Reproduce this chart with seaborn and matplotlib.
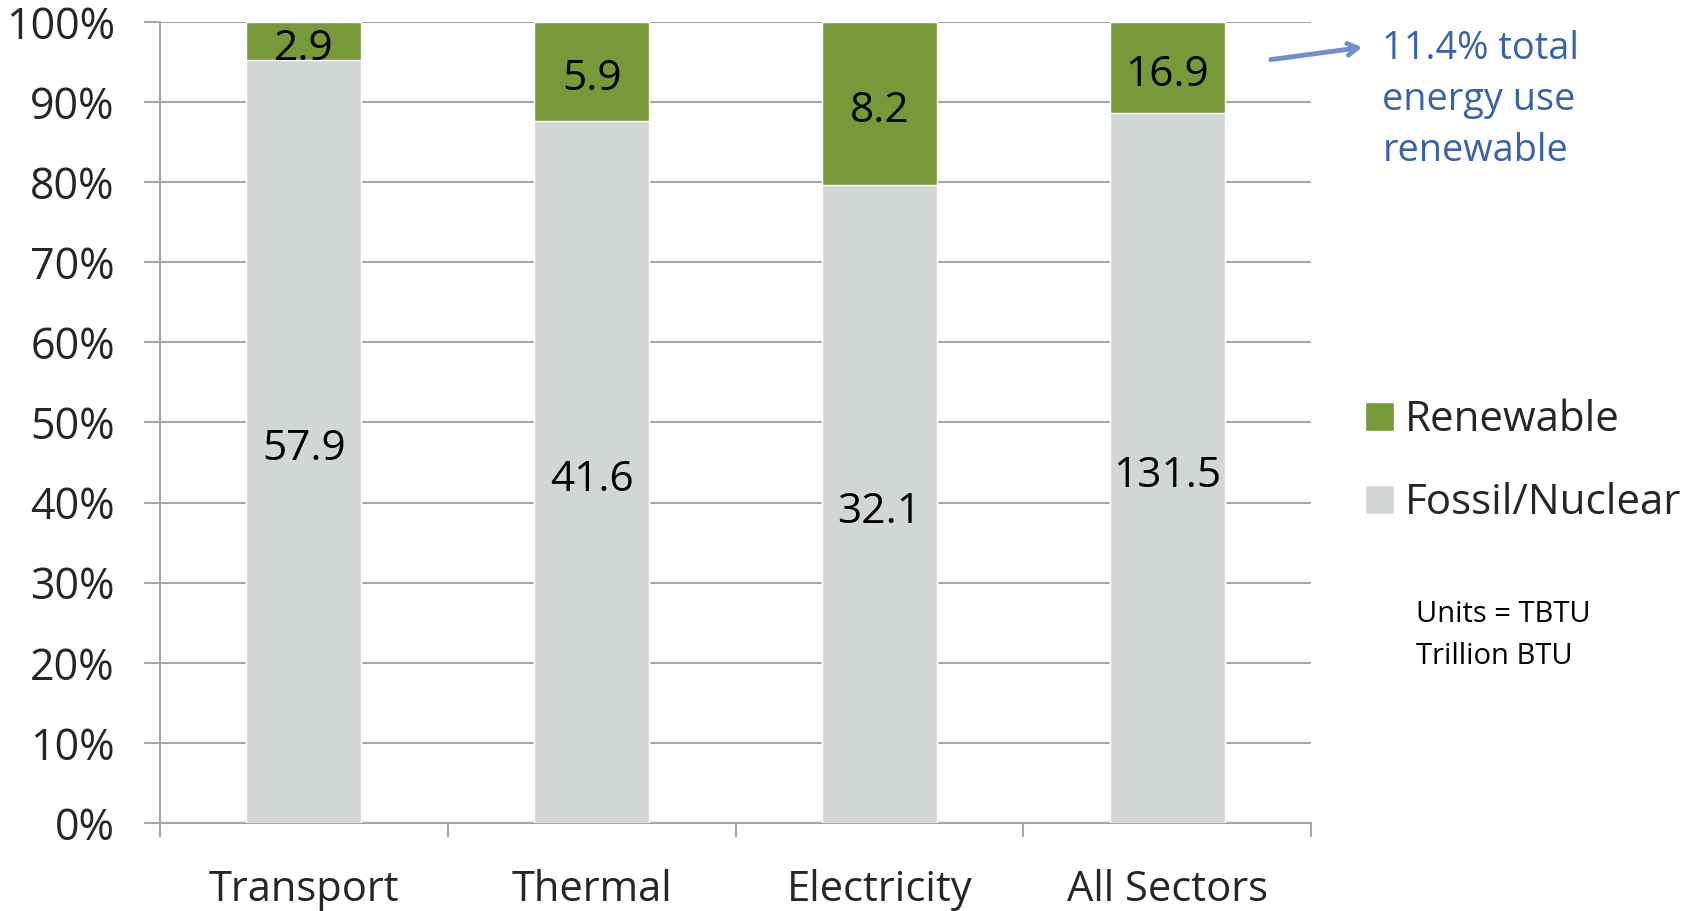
import numpy as np
import pandas as pd
import matplotlib.pyplot as plt
from matplotlib.patches import Patch
import seaborn as sns

# energy use by sector, TBTU
sectors = ["Transport", "Thermal", "Electricity", "All Sectors"]
renewable = [2.9, 5.9, 8.2, 16.9]
fossil = [57.9, 41.6, 32.1, 131.5]
y_ticks = [0, 10, 20, 30, 40, 50, 60, 70, 80, 90, 100]
y_labels = [f"{v}%" for v in y_ticks]

green = "#77993a"
grey = "#d3d6d7"
line_grey = "#a6a6a6"
blue_txt = "#3a62a6"

sns.set_theme(style="white")
plt.rcParams['font.family'] = ['Open Sans', 'DejaVu Sans']

df = pd.DataFrame({"sector": sectors, "renewable": renewable, "fossil": fossil})
df["total"] = df.renewable + df.fossil
df["fossil_pct"] = df.fossil / df.total * 100
df["full"] = 100.0

fig = plt.figure(figsize=(16.98, 9.11), dpi=100)
ax = fig.add_axes([0.0942, 0.0966, 0.678, 0.8794])

# green full bar underneath, grey fossil share on top
sns.barplot(data=df, x="sector", y="full", color=green, width=0.4, saturation=1, ax=ax, zorder=2)
sns.barplot(data=df, x="sector", y="fossil_pct", color=grey, width=0.4, saturation=1, ax=ax, zorder=3)

for i, row in df.iterrows():
    ax.annotate(f"{row.renewable:.1f}", (i, (row.fossil_pct + 100) / 2), xytext=(0, -5.5),
                textcoords="offset points", ha="center", va="center", fontsize=30.5, color="black", zorder=5)
    ax.annotate(f"{row.fossil:.1f}", (i, row.fossil_pct / 2), xytext=(0, -5.5),
                textcoords="offset points", ha="center", va="center", fontsize=30.5, color="black", zorder=5)

ax.set_ylim(0, 100)
ax.set_xlim(-0.5, 3.5)
ax.set_yticks(y_ticks)
ax.set_yticklabels(y_labels, fontsize=31)
ax.yaxis.grid(True, color=line_grey, lw=1.5)
ax.set_axisbelow(True)
ax.set_xlabel("")
ax.set_ylabel("")

ax.set_xticks(range(len(sectors)))
ax.set_xticklabels(sectors, fontsize=30)
ax.set_xticks(np.arange(-0.5, len(sectors), 1.0), minor=True)
ax.tick_params(axis="x", which="major", length=0, pad=33)
ax.tick_params(axis="x", which="minor", length=10, width=1.5, color=line_grey, direction="out", bottom=True)
ax.tick_params(axis="y", which="major", length=11.5, width=1.5, color=line_grey, direction="out", left=True, pad=21)

for s in ["top", "right"]:
    ax.spines[s].set_visible(False)
for s in ["left", "bottom"]:
    ax.spines[s].set_color(line_grey)
    ax.spines[s].set_linewidth(1.5)

handles = [Patch(facecolor=green, label="Renewable"), Patch(facecolor=grey, label="Fossil/Nuclear")]
fig.legend(handles=handles, loc="center left", bbox_to_anchor=(0.804, 0.493), frameon=False,
           fontsize=30.3, handlelength=0.68, handleheight=0.68, handletextpad=0.26,
           labelspacing=0.98, borderpad=0, borderaxespad=0)

fig.text(0.8141, 0.967, "11.4% total\nenergy use\nrenewable", color=blue_txt, fontsize=27.3,
         ha="left", va="top", linespacing=1.45)
ax.annotate("", xy=(1365, 864), xytext=(1268, 851), xycoords="figure pixels", textcoords="figure pixels",
            arrowprops=dict(arrowstyle="->,head_length=0.6,head_width=0.35", color="#7090c8", lw=3.5))

fig.text(0.8337, 0.302, "Units = TBTU\nTrillion BTU", color="black", fontsize=21,
         ha="left", va="center", linespacing=1.6)

plt.savefig("out.png", dpi=100)
